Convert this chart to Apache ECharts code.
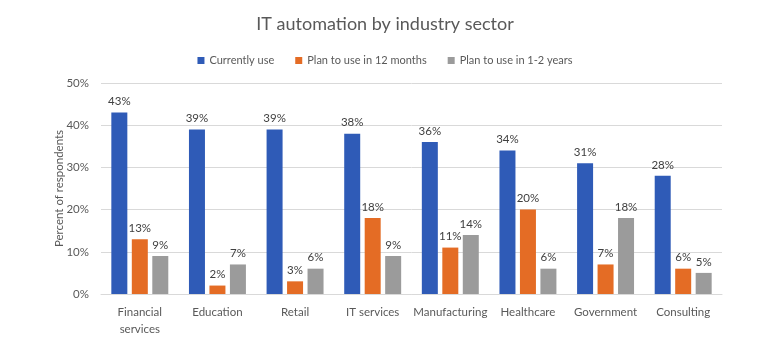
<!DOCTYPE html>
<html><head><meta charset="utf-8">
<script src="https://cdn.jsdelivr.net/npm/echarts@6/dist/echarts.min.js"></script>
<style>html,body{margin:0;padding:0;background:#fff}#c{width:770px;height:350px}</style>
</head><body><div id="c"></div>
<script>
var categories = ['Financial\nservices','Education','Retail','IT services','Manufacturing','Healthcare','Government','Consulting'];
var currentlyUse = [43,39,39,38,36,34,31,28];
var plan12 = [13,2,3,18,11,20,7,6];
var plan12y = [9,7,6,9,14,6,18,5];
var seriesNames = ['Currently use','Plan to use in 12 months','Plan to use in 1-2 years'];
var colors = ['#2f5bb7','#e46c25','#9b9b9b'];
var font = 'Lato, "Open Sans", sans-serif';
var chart = echarts.init(document.getElementById('c'));
function mk(name, data, color){
  return {name:name,type:'bar',data:data,barWidth:16,barGap:'28%',
    itemStyle:{color:color},
    label:{show:true,position:'top',distance:5,formatter:'{c}%',color:'#404040',fontSize:11.5,fontFamily:font}};
}
chart.setOption({
  animation:false,
  color:colors,
  title:{text:'IT automation by industry sector',left:'center',top:10,
    textStyle:{fontSize:18,fontWeight:'normal',color:'#595959',fontFamily:font}},
  legend:{top:50,left:'center',itemWidth:7,itemHeight:7,itemGap:21,icon:'rect',
    textStyle:{fontSize:11,color:'#595959',fontFamily:font}},
  grid:{left:101,right:48,top:83,bottom:56},
  xAxis:{type:'category',data:categories,
    axisLine:{lineStyle:{color:'#d9d9d9'}},axisTick:{show:false},
    axisLabel:{color:'#595959',fontSize:11.5,fontFamily:font,margin:10,lineHeight:17,interval:0}},
  yAxis:{type:'value',min:0,max:50,interval:10,
    name:'Percent of respondents',nameLocation:'middle',nameGap:36,nameMoveOverlap:false,
    nameTextStyle:{color:'#595959',fontSize:11.5,fontFamily:font},
    axisLabel:{formatter:'{value}%',color:'#595959',fontSize:11.5,fontFamily:font,margin:12},
    splitLine:{lineStyle:{color:'#d9d9d9'}},axisLine:{show:false},axisTick:{show:false}},
  series:[mk(seriesNames[0],currentlyUse,colors[0]),mk(seriesNames[1],plan12,colors[1]),mk(seriesNames[2],plan12y,colors[2])]
});
</script></body></html>
